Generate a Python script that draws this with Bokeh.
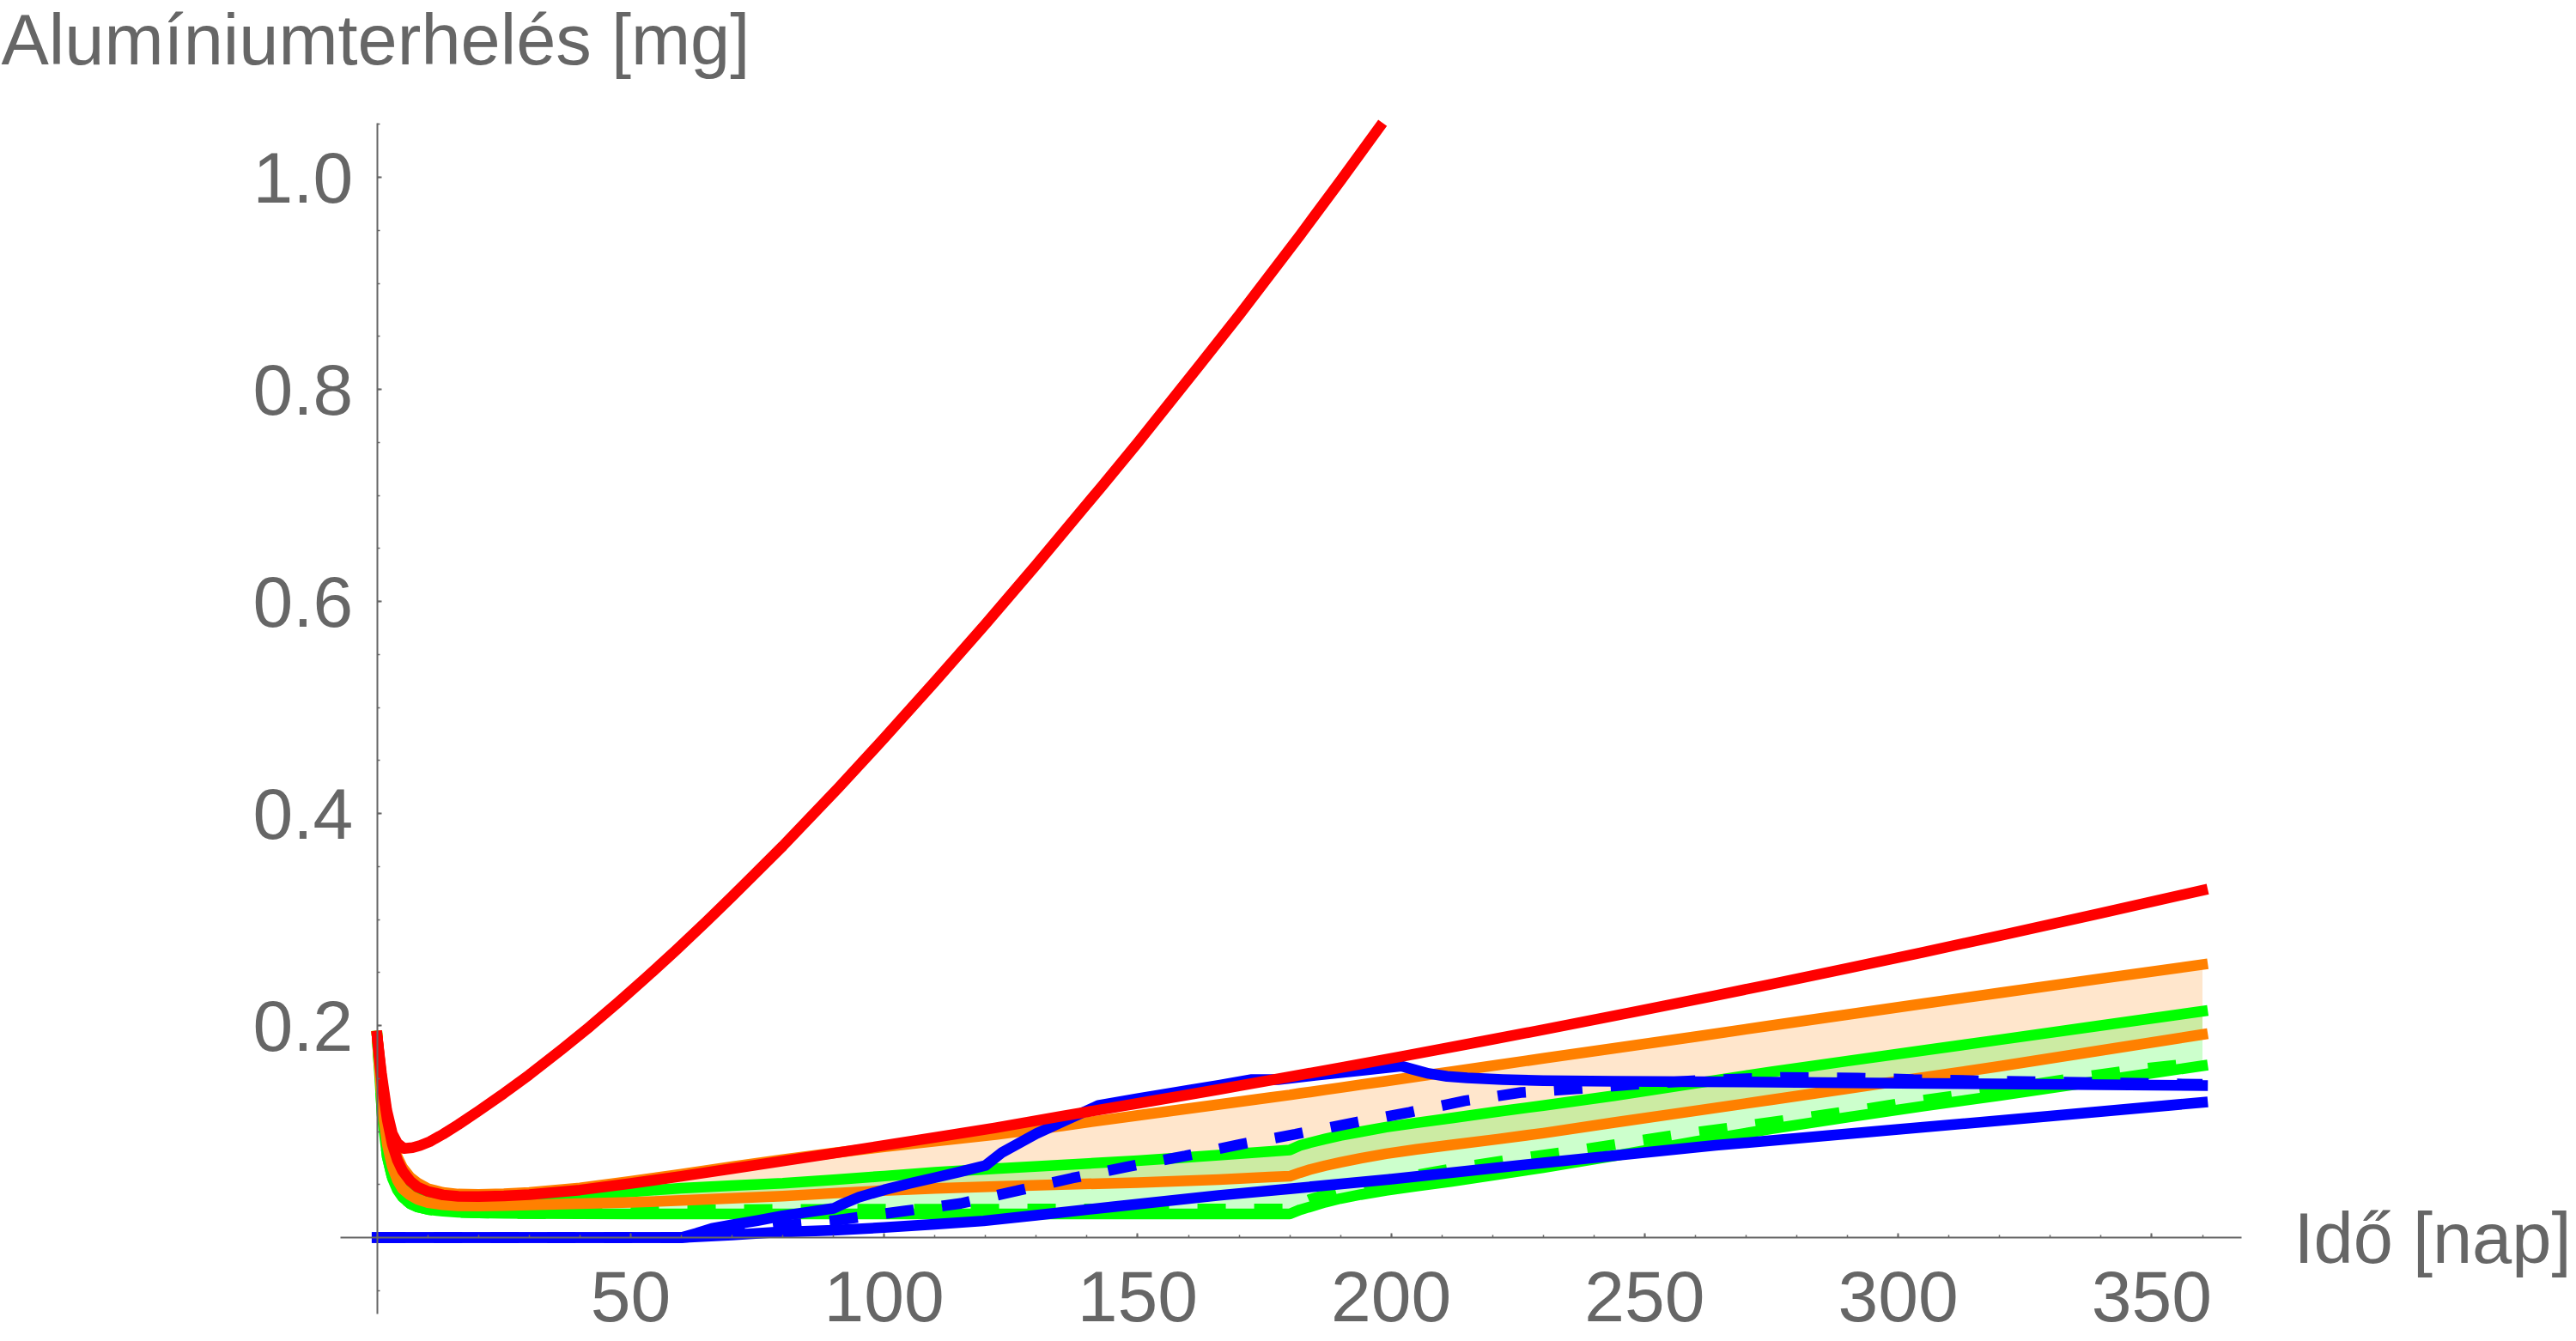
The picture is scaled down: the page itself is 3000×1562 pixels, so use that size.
from bokeh.plotting import figure
from bokeh.models import Range1d, LinearAxis, FixedTicker, PrintfTickFormatter, Label
from bokeh.embed import file_html
from bokeh.resources import INLINE

# ---------------- data ----------------
band_days = [0, 1, 2, 3, 4, 5, 6.5, 8, 10, 13, 16, 20, 25, 30, 40, 50, 60, 70, 80, 90,
             100, 110, 122, 135, 150, 166, 176, 180, 182, 184, 187, 190, 194, 199, 205, 212, 221, 230, 244, 260,
             275, 290, 305, 320, 340, 360]
orange_upper = [0.19, 0.146, 0.114, 0.091, 0.076, 0.066, 0.057, 0.0515, 0.0462, 0.0425,
                0.041, 0.0407, 0.0413, 0.0425, 0.0468, 0.0530, 0.0598, 0.0668, 0.0735, 0.0798,
                0.0855, 0.0908, 0.0972, 0.1053, 0.1152, 0.1255, 0.132, 0.1345, 0.136, 0.1373,
                0.1394, 0.1414, 0.1442, 0.1476, 0.1518, 0.1566, 0.1628, 0.169, 0.1785, 0.1895,
                0.2000, 0.2103, 0.2206, 0.2308, 0.2442, 0.2575]
orange_lower = [0.19, 0.125, 0.088, 0.067, 0.054, 0.046, 0.040, 0.036, 0.033, 0.031,
                0.030, 0.0298, 0.0302, 0.0307, 0.032, 0.0332, 0.035, 0.037, 0.039, 0.0418,
                0.0443, 0.0463, 0.0482, 0.050, 0.0518, 0.0547, 0.0570, 0.0578, 0.0612, 0.0642,
                0.0678, 0.0710, 0.0748, 0.0790, 0.0832, 0.0875, 0.0928, 0.0985, 0.1085, 0.1195,
                0.1300, 0.1405, 0.1510, 0.1615, 0.1765, 0.1915]
green_upper = [0.19, 0.130, 0.095, 0.073, 0.060, 0.052, 0.0455, 0.0415, 0.0385, 0.0365,
               0.0357, 0.0356, 0.036, 0.0368, 0.0395, 0.0432, 0.0465, 0.049, 0.0512, 0.0545,
               0.058, 0.0615, 0.065, 0.0685, 0.0725, 0.0777, 0.0812, 0.0826, 0.0868, 0.0895,
               0.0930, 0.0962, 0.0998, 0.1041, 0.1082, 0.1127, 0.1188, 0.1245, 0.1338, 0.1455,
               0.1563, 0.1665, 0.1765, 0.1865, 0.2000, 0.2135]
green_lower = [0.19, 0.115, 0.076, 0.056, 0.045, 0.038, 0.032, 0.0288, 0.0265, 0.0248,
               0.0238, 0.0232, 0.0228, 0.0226, 0.0224, 0.0223, 0.0223, 0.0223, 0.0223, 0.0223,
               0.0223, 0.0223, 0.0223, 0.0223, 0.0223, 0.0223, 0.0223, 0.0223, 0.0262, 0.029,
               0.0333, 0.0368, 0.0405, 0.0445, 0.0485, 0.053, 0.0595, 0.066, 0.077, 0.0905,
               0.1025, 0.1135, 0.124, 0.134, 0.148, 0.162]

green_dashed_days = [0, 1, 2, 3, 4, 5, 6.5, 8, 10, 13, 16, 20, 25, 30, 40, 50, 60, 80, 100, 120,
                     140, 160, 180, 182, 184, 187, 192, 200, 213, 224, 236, 247, 258, 270, 281, 293,
                     304, 320, 337, 349, 360]
green_dashed = [0.19, 0.115, 0.076, 0.056, 0.045, 0.038, 0.032, 0.0288, 0.0265, 0.0248,
                0.0238, 0.0232, 0.0228, 0.0226, 0.0224, 0.0245, 0.026, 0.0265, 0.0267, 0.0268,
                0.0269, 0.027, 0.027, 0.032, 0.036, 0.040, 0.047, 0.055, 0.0656, 0.0737,
                0.0818, 0.0899, 0.098, 0.1055, 0.1128, 0.1209, 0.129, 0.1395, 0.152, 0.1596, 0.1654]

red_upper_days = [0, 0.85, 1.9, 3, 4, 5.3, 7, 8.5, 10.4, 13, 16, 20, 25, 30, 36.35, 42, 47.64,
                  53, 58.9, 65, 70, 80, 91, 100, 110, 120, 130, 143, 150, 162, 170, 182, 190, 198.3]
red_upper = [0.19, 0.155, 0.12, 0.098, 0.089, 0.084, 0.0848, 0.0868, 0.0905, 0.0975, 0.1065,
             0.1193, 0.1360, 0.1535, 0.1772, 0.1991, 0.2223, 0.2450, 0.2707, 0.2984, 0.3216,
             0.3692, 0.4243, 0.471, 0.5243, 0.5786, 0.6345, 0.709, 0.7496, 0.8215, 0.870,
             0.9452, 0.9968, 1.0513]

red_lower_days = [0, 1, 2, 3, 4, 5, 6.5, 8, 10, 13, 16, 20, 25, 30, 40, 50, 60, 70, 80, 90,
                  100, 110, 122, 135, 150, 166, 180, 190, 202, 215, 230, 247.5, 264, 275, 290, 305,
                  320, 340, 360]
red_lower = [0.19, 0.143, 0.111, 0.088, 0.073, 0.063, 0.0535, 0.0475, 0.0435, 0.0402,
             0.0389, 0.0387, 0.0393, 0.0405, 0.0448, 0.0510, 0.0578, 0.0650, 0.0722, 0.0795,
             0.0869, 0.0944, 0.1036, 0.1145, 0.1265, 0.1397, 0.1516, 0.1602, 0.1707, 0.1824,
             0.1961, 0.2124, 0.2283, 0.2390, 0.2539, 0.2692, 0.2847, 0.3059, 0.3276]

blue_upper_days = [0, 60, 63, 66, 70, 75, 80, 85, 90, 92, 95, 100, 105, 110, 115, 120, 123.3, 130,
                   136, 142.2, 150, 160, 166, 172.5, 177.7, 185, 195, 202, 204, 207.4, 211, 215,
                   222, 230, 244, 260, 275, 300, 330, 360]
blue_upper = [0, 0, 0.004, 0.0085, 0.012, 0.016, 0.0205, 0.024, 0.0275, 0.032, 0.038, 0.045,
              0.051, 0.0565, 0.062, 0.068, 0.0804, 0.098, 0.111, 0.1245, 0.131, 0.139, 0.1435,
              0.149, 0.149, 0.153, 0.158, 0.1617, 0.159, 0.1547, 0.152, 0.1506, 0.149, 0.148,
              0.1474, 0.147, 0.1466, 0.1455, 0.1445, 0.1433]

blue_dashed_days = [0, 60, 65, 70, 79.5, 90.8, 104.1, 115.1, 126.1, 137.1, 148.1, 159.4, 170.3,
                    181.1, 192.5, 203.6, 214.6, 225.6, 237, 248, 260, 277, 292, 303, 320, 340, 360]
blue_dashed = [0, 0, 0.002, 0.005, 0.011, 0.0164, 0.0251, 0.0322, 0.044, 0.0561, 0.0669, 0.0771,
               0.088, 0.0974, 0.1082, 0.1182, 0.129, 0.1368, 0.1405, 0.1445, 0.148, 0.151, 0.1505,
               0.149, 0.1475, 0.146, 0.1445]

blue_lower_days = [0, 60, 70, 78, 90, 100, 110, 119.6, 130, 145, 166, 180, 200, 230, 264, 275,
                   300, 330, 360]
blue_lower = [0, 0, 0.0025, 0.0049, 0.0068, 0.0095, 0.0125, 0.0157, 0.021, 0.029, 0.0398, 0.046,
              0.055, 0.0705, 0.087, 0.0915, 0.102, 0.1145, 0.1275]

x_ticks = [50, 100, 150, 200, 250, 300, 350]
x_minor = list(range(0, 370, 10))
y_ticks = [0.2, 0.4, 0.6, 0.8, 1.0]
y_minor = [round(0.05 * k, 2) for k in range(-1, 22)]

x_title = "Idő [nap]"
y_title = "Alumíniumterhelés [mg]"

# ---------------- layout (pixel geometry of the reference) ----------------
W, H = 3000, 1562
X0, PX_PER_DAY = 438.7, 5.905      # screen x of day 0, px per day
Y0, PX_PER_UNIT = 1441.0, 1235.0   # screen y of value 0, px per mg


def dx(px):
    return (px - X0) / PX_PER_DAY


def dy(py):
    return (Y0 - py) / PX_PER_UNIT


p = figure(width=W, height=H, output_backend="svg", toolbar_location=None,
           x_range=Range1d(dx(0), dx(W)), y_range=Range1d(dy(H), dy(0)),
           x_axis_location=None, y_axis_location=None, min_border=0)
p.outline_line_color = None
p.grid.visible = False
p.background_fill_color = "white"
p.border_fill_color = "white"

GRAY = "#666666"
FONT = "Liberation Sans"
FS = "84px"

xaxis = LinearAxis(fixed_location=0, bounds=(dx(396), dx(2610)),
                   ticker=FixedTicker(ticks=x_ticks, minor_ticks=x_minor),
                   formatter=PrintfTickFormatter(format="%d"))
yaxis = LinearAxis(fixed_location=0, bounds=(dy(1530), dy(143)),
                   ticker=FixedTicker(ticks=y_ticks, minor_ticks=y_minor),
                   formatter=PrintfTickFormatter(format="%.1f"))
for ax in (xaxis, yaxis):
    ax.axis_line_color = GRAY
    ax.axis_line_width = 2
    ax.major_tick_line_color = GRAY
    ax.minor_tick_line_color = GRAY
    ax.major_tick_line_width = 2
    ax.minor_tick_line_width = 1.5
    ax.major_tick_in = 5
    ax.major_tick_out = 0
    ax.minor_tick_in = 3
    ax.minor_tick_out = 0
    ax.major_label_text_font = FONT
    ax.major_label_text_font_size = FS
    ax.major_label_text_color = GRAY
xaxis.major_label_standoff = 39
yaxis.major_label_standoff = 28
p.add_layout(xaxis, "below")
p.add_layout(yaxis, "left")

# fills
p.varea(x=band_days, y1=orange_lower, y2=orange_upper, fill_color="#FF8000", fill_alpha=0.2)
p.varea(x=band_days, y1=green_lower, y2=green_upper, fill_color="#00FF00", fill_alpha=0.2)

LW = 12.5
# green
p.line(band_days, green_upper, line_color="#00FF00", line_width=LW, line_cap="square", line_join="round")
p.line(band_days, green_lower, line_color="#00FF00", line_width=LW, line_cap="square", line_join="round")
p.line(green_dashed_days, green_dashed, line_color="#00FF00", line_width=LW,
       line_dash="33 33", line_cap="butt")
# orange
p.line(band_days, orange_upper, line_color="#FF8000", line_width=LW, line_cap="square", line_join="round")
p.line(band_days, orange_lower, line_color="#FF8000", line_width=LW, line_cap="square", line_join="round")
# blue
p.line(blue_lower_days, blue_lower, line_color="#0000FF", line_width=LW, line_cap="square", line_join="round")
p.line(blue_dashed_days, blue_dashed, line_color="#0000FF", line_width=LW,
       line_dash="33 33", line_cap="butt")
p.line(blue_upper_days, blue_upper, line_color="#0000FF", line_width=LW, line_cap="square", line_join="round")
# red
p.line(red_lower_days, red_lower, line_color="#FF0000", line_width=LW, line_cap="square", line_join="round")
p.line(red_upper_days, red_upper, line_color="#FF0000", line_width=LW, line_cap="butt", line_join="round")

# axis titles
p.add_layout(Label(x=dx(1), y=dy(46), text=y_title, text_font=FONT, text_font_size="83px",
                   text_color=GRAY, text_align="left", text_baseline="alphabetic"))
p.add_layout(Label(x=dx(2994), y=dy(1442), text=x_title, text_font=FONT, text_font_size="83px",
                   text_color=GRAY, text_align="right", text_baseline="alphabetic"))

open("out.html", "w").write(file_html(p, INLINE))
